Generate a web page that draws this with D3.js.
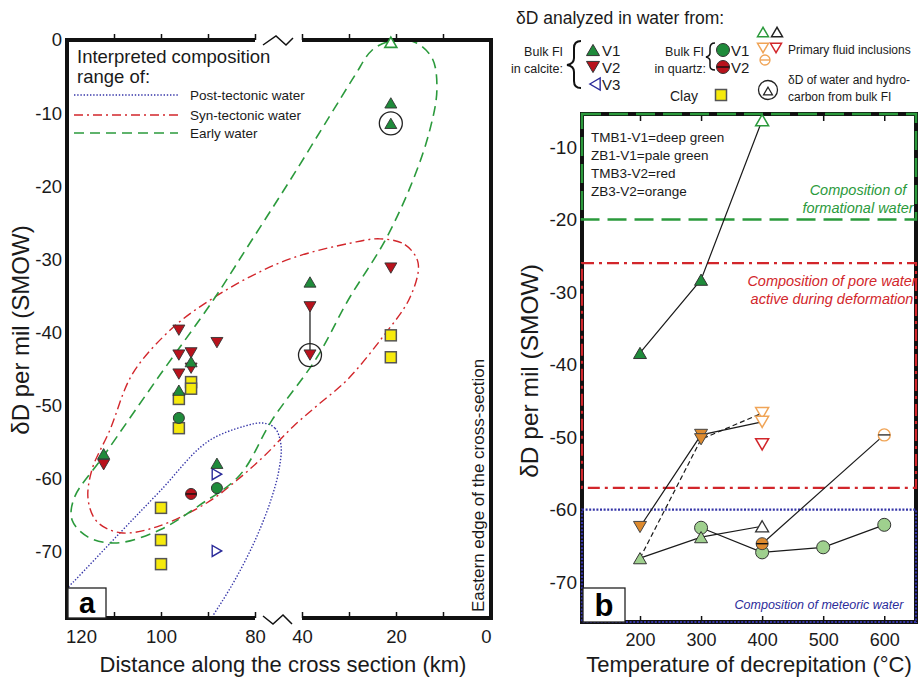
<!DOCTYPE html>
<html><head><meta charset="utf-8">
<script src="https://cdn.jsdelivr.net/npm/d3@7"></script>
<style>body{margin:0;background:#fff}svg{display:block}</style>
</head><body><svg id="c" width="923" height="678"></svg>
<script>
// ---------------- DATA ----------------
// Panel a : distance (km) along cross section, dD (per mil SMOW)
const distLabels = [120, 100, 80, 40, 20, 0];
const distTickMarks = [110, 100, 90, 80, 40, 30, 20, 10];
const dDTicksA = [0, -10, -20, -30, -40, -50, -60, -70];
const calciteV1 = [[112.2,-56.6],[96.2,-47.9],[93.6,-44.0],[88.1,-57.9],[38.3,-33.1],[21.1,-8.6],[21.1,-11.4]];
const calciteV2 = [[96.2,-39.7],[88.1,-41.4],[96.2,-43.1],[93.6,-42.8],[93.6,-44.9],[96.2,-45.7],[112.2,-58.1],[38.3,-36.5],[38.3,-43.1],[21.1,-31.2]];
const calciteV3 = [[88.1,-59.4],[88.1,-69.9]];
const quartzV1 = [[96.2,-51.7],[88.1,-61.3]];
const quartzV2 = [[93.6,-62.1]];
const clay = [[93.6,-46.8],[93.6,-47.7],[96.2,-49.1],[96.2,-53.1],[100,-64.0],[100,-68.4],[100,-71.7],[21.1,-40.4],[21.1,-43.4]];
const primaryA = [[21.1,-0.3]];
const bulkWaterHC = [[21.1,-11.4],[38.3,-43.1]];
const linkA = [[38.3,-36.5],[38.3,-43.1]];
// interpreted composition ranges (outline vertices, km / dD)
const earlyWater = [[25.1,-1.4],[20.9,-0.1],[16.0,-0.3],[12.3,-2.5],[11.3,-6.8],[12.8,-12.3],[16.4,-19.2],[22.3,-27.4],[30.2,-35.6],[36.8,-43.4],[65.5,-52.0],[83.2,-59.5],[91.7,-63.6],[100.2,-67.0],[109.4,-68.8],[115.5,-68.0],[118.9,-65.7],[118.5,-62.7],[112.1,-56.8],[100.2,-45.8],[88.9,-35.6],[81.1,-27.8],[50.2,-19.2],[34.0,-10.3],[28.7,-4.8]];
const synTectonic = [[23.4,-27.2],[18.1,-28.0],[15.3,-30.5],[17.0,-35.2],[22.8,-40.6],[30.4,-46.5],[36.2,-49.7],[47.7,-52.9],[71.5,-56.8],[83.8,-60.2],[90.2,-63.3],[100.9,-66.6],[108.7,-67.4],[113.6,-65.9],[115.5,-62.9],[114.7,-58.8],[110.9,-53.4],[106.0,-45.6],[97.4,-39.3],[89.6,-35.6],[81.1,-32.4],[47.7,-29.8],[29.8,-27.8]];
const postTectonic = [[73.2,-52.4],[63.0,-53.1],[57.9,-55.4],[59.6,-58.8],[66.4,-62.9],[79.8,-68.4],[84.3,-73.9],[89.1,-78.9],[96.0,-85.5],[108.7,-90.3],[123.6,-87.6],[127.9,-82.1],[124.7,-78.0],[118.9,-74.3],[108.7,-67.4],[100.2,-61.7],[90.2,-55.0],[82.1,-52.8]];

// Panel b : temperature of decrepitation (C), dD
const tempTicks = [200, 300, 400, 500, 600];
const dDTicksB = [-10, -20, -30, -40, -50, -60, -70];
const deepGreenBulk = [[200,-38.4],[300,-28.3]];
const deepGreenPrimary = [[400,-6.3]];
const deepGreenLine = [[200,-38.4],[300,-28.3],[400,-6.3]];
const paleGreenTri = [[200,-66.7],[300,-63.8]];
const paleGreenPrimary = [[400,-62.3]];
const paleGreenTriLine = [[200,-66.7],[300,-63.8],[400,-62.3]];
const paleGreenCirc = [[300,-62.5],[400,-65.9],[500,-65.2],[600,-62.1]];
const orangeBulk = [[200,-62.4],[300,-49.7],[300,-50.3]];
const orangePrimary = [[400,-46.7],[400,-47.9]];
const orangeLine = [[200,-62.4],[300,-49.7],[400,-47.9]];
const dashedLine = [[200,-66.7],[300,-50.3],[400,-46.7]];
const redPrimary = [[400,-51.0]];
const orangeQuartz = [[400,-64.7]];
const orangeQuartzPrimary = [[600,-49.7]];
const orangeQuartzLine = [[400,-64.7],[600,-49.7]];
const formationalWater = -20, poreWaterTop = -26, poreWaterBottom = -57, meteoricWater = -60;

// ---------------- STYLE ----------------
const FONT = '"Liberation Sans", Arial, Helvetica, sans-serif';
const C = {green:"#1f8b3b", pale:"#9fd08e", red:"#b8121c", orange:"#dd8a2e", orangeL:"#f0a456",
  yellow:"#f6ea0c", blue:"#2b2b9a", gLine:"#2b9a3c", rLine:"#d2262b", bLine:"#3535a8"};

const svg = d3.select("#c").style("font-family", FONT);

function tri(cx, cy, w, dir){
  const h = w*0.86, a=[];
  if(dir==="up") a.push([cx,cy-h/2],[cx-w/2,cy+h/2],[cx+w/2,cy+h/2]);
  if(dir==="down") a.push([cx,cy+h/2],[cx-w/2,cy-h/2],[cx+w/2,cy-h/2]);
  if(dir==="right") a.push([cx+h/2,cy],[cx-h/2,cy-w/2],[cx-h/2,cy+w/2]);
  if(dir==="left") a.push([cx-h/2,cy],[cx+h/2,cy-w/2],[cx+h/2,cy+w/2]);
  return "M"+a.map(p=>p.join(",")).join("L")+"Z";
}
function triMarks(g, data, xs, ys, w, dir, fill, stroke, sw){
  g.selectAll(null).data(data).enter().append("path")
   .attr("d", d=>tri(xs(d[0]), ys(d[1]), w, dir))
   .attr("fill", fill).attr("stroke", stroke).attr("stroke-width", sw).attr("stroke-linejoin","miter");
}
function circMarks(g, data, xs, ys, r, fill, stroke, sw, bar){
  const s = g.selectAll(null).data(data).enter().append("g");
  s.append("circle").attr("cx", d=>xs(d[0])).attr("cy", d=>ys(d[1])).attr("r", r)
   .attr("fill", fill).attr("stroke", stroke).attr("stroke-width", sw);
  if(bar) s.append("line").attr("x1", d=>xs(d[0])-r).attr("x2", d=>xs(d[0])+r)
   .attr("y1", d=>ys(d[1])).attr("y2", d=>ys(d[1])).attr("stroke", bar).attr("stroke-width", 1.4);
}
function sqMarks(g, data, xs, ys, w){
  g.selectAll(null).data(data).enter().append("rect")
   .attr("x", d=>xs(d[0])-w/2).attr("y", d=>ys(d[1])-w/2).attr("width", w).attr("height", w)
   .attr("fill", C.yellow).attr("stroke", "#555").attr("stroke-width", 1.5);
}
function styleAxis(g, size){
  g.select(".domain").remove();
  g.attr("font-size", null).attr("font-family", null);
  g.selectAll("text").attr("font-size", size).attr("fill", "#1a1a1a");
  g.selectAll("line").attr("stroke", "#111").attr("stroke-width", 1.5);
}

// ================= PANEL A =================
const xA = d3.scaleLinear().domain([120, 80, 40, 0]).range([67, 255, 302, 490]);
const yA = d3.scaleLinear().domain([0, -79]).range([40, 617.5]);
const A = svg.append("g");
svg.append("defs").append("clipPath").attr("id","clipA").append("rect")
  .attr("x", 67).attr("y", 40).attr("width", 423).attr("height", 578);

const ell = d3.line().x(d=>xA(d[0])).y(d=>yA(d[1])).curve(d3.curveCatmullRomClosed.alpha(0.5));
const ellG = A.append("g").attr("clip-path","url(#clipA)");
ellG.append("path").attr("d", ell(postTectonic)).attr("fill","none").attr("stroke",C.bLine).attr("stroke-width",1.4).attr("stroke-dasharray","1.4,1.8");
ellG.append("path").attr("d", ell(synTectonic)).attr("fill","none").attr("stroke",C.rLine).attr("stroke-width",1.4).attr("stroke-dasharray","9,4,2,4");
ellG.append("path").attr("d", ell(earlyWater)).attr("fill","none").attr("stroke",C.gLine).attr("stroke-width",1.6).attr("stroke-dasharray","10,6");

// axes
const axB = A.append("g").attr("transform","translate(0,618)")
  .call(d3.axisBottom(xA).tickValues(distLabels).tickSize(0).tickPadding(12).tickFormat(d=>String(d)));
styleAxis(axB, 18.5);
axB.selectAll(".tick").filter(d=>d===120).select("text").attr("dx", 14);
axB.selectAll(".tick").filter(d=>d===0).select("text").attr("dx", -4);
const tkB = A.append("g").attr("transform","translate(0,618)")
  .call(d3.axisBottom(xA).tickValues(distTickMarks).tickSize(-6).tickFormat(""));
styleAxis(tkB, 10);
const tkT = A.append("g").attr("transform","translate(0,40)")
  .call(d3.axisTop(xA).tickValues(distTickMarks).tickSize(6).tickFormat(""));
styleAxis(tkT, 10);
const axL = A.append("g").attr("transform","translate(67,0)")
  .call(d3.axisLeft(yA).tickValues(dDTicksA).tickSize(0).tickPadding(5).tickFormat(d=>String(d)));
styleAxis(axL, 18.5);

// frame
const fr = A.append("g").attr("stroke","#111").attr("stroke-width",4).attr("fill","none");
fr.append("line").attr("x1",xA(120)).attr("x2",xA(120)).attr("y1",38).attr("y2",620);
fr.append("line").attr("x1",xA(0)+1).attr("x2",xA(0)+1).attr("y1",38).attr("y2",620);
[40, 618].forEach(y=>{
  fr.append("line").attr("x1",65).attr("x2",xA(80)).attr("y1",y).attr("y2",y);
  fr.append("line").attr("x1",xA(40)).attr("x2",493).attr("y1",y).attr("y2",y);
});
A.append("path").attr("d","M263,45L276,36L286,45L293,38").attr("fill","none").attr("stroke","#111").attr("stroke-width",1.5);
A.append("path").attr("d","M263,616L273,624L283,615L292,624").attr("fill","none").attr("stroke","#111").attr("stroke-width",1.5);

// connectors and data
A.append("line").attr("x1",xA(linkA[0][0])).attr("x2",xA(linkA[1][0])).attr("y1",yA(linkA[0][1])).attr("y2",yA(linkA[1][1])).attr("stroke","#111").attr("stroke-width",1.2);
const mA = A.append("g");
sqMarks(mA, clay, xA, yA, 11);
circMarks(mA, quartzV1, xA, yA, 5.5, C.green, "#333", 1);
circMarks(mA, quartzV2, xA, yA, 5.5, C.red, "#333", 1, "#111");
triMarks(mA, calciteV3, xA, yA, 11, "right", "#fff", C.blue, 1.4);
triMarks(mA, calciteV2, xA, yA, 12, "down", C.red, "#333", 0.9);
triMarks(mA, calciteV1, xA, yA, 12, "up", C.green, "#333", 0.9);
triMarks(mA, primaryA, xA, yA, 12, "up", "#fff", C.gLine, 1.6);
mA.selectAll(null).data(bulkWaterHC).enter().append("circle")
  .attr("cx", d=>xA(d[0])).attr("cy", d=>yA(d[1])).attr("r", 11.5)
  .attr("fill","none").attr("stroke","#222").attr("stroke-width",1.3);

// legend a
A.append("text").attr("x",77).attr("y",63).attr("font-size",18.5).attr("fill","#1a1a1a").text("Interpreted composition");
A.append("text").attr("x",77).attr("y",83).attr("font-size",18.5).attr("fill","#1a1a1a").text("range of:");
const legA = [["Post-tectonic water", C.bLine, "1.4,1.8", 95],["Syn-tectonic water", C.rLine, "9,4,2,4", 115],["Early water", C.gLine, "10,6", 133]];
legA.forEach(l=>{
  A.append("line").attr("x1",74).attr("x2",178).attr("y1",l[3]).attr("y2",l[3]).attr("stroke",l[1]).attr("stroke-width",1.5).attr("stroke-dasharray",l[2]);
  A.append("text").attr("x",190).attr("y",l[3]+5).attr("font-size",13.5).attr("fill","#1a1a1a").text(l[0]);
});

// label a
A.append("rect").attr("x",68).attr("y",588).attr("width",38).attr("height",30).attr("fill","#fff").attr("stroke","#222").attr("stroke-width",1.3);
A.append("text").attr("x",87).attr("y",613).attr("text-anchor","middle").attr("font-size",29).attr("font-weight","bold").text("a");
A.append("text").attr("transform","translate(484,612) rotate(-90)").attr("font-size",17).attr("fill","#1a1a1a").text("Eastern edge of the cross-section");
A.append("text").attr("transform","translate(29,330) rotate(-90)").attr("text-anchor","middle").attr("font-size",24).attr("fill","#1a1a1a").text("δD per mil (SMOW)");
A.append("text").attr("x",283).attr("y",672).attr("text-anchor","middle").attr("font-size",22).attr("fill","#1a1a1a").text("Distance along the cross section (km)");

// ================= PANEL B =================
const xB = d3.scaleLinear().domain([105, 652]).range([582, 916]);
const yB = d3.scaleLinear().domain([-5.45, -75.5]).range([114, 622]);
const B = svg.append("g");

const bx = B.append("g").attr("transform","translate(0,622)")
  .call(d3.axisBottom(xB).tickValues(tempTicks).tickSize(0).tickPadding(11).tickFormat(d=>String(d)));
styleAxis(bx, 18);
const btb = B.append("g").attr("transform","translate(0,622)")
  .call(d3.axisBottom(xB).tickValues(tempTicks).tickSize(-6).tickFormat(""));
styleAxis(btb, 10);
const btt = B.append("g").attr("transform","translate(0,114)")
  .call(d3.axisTop(xB).tickValues(tempTicks).tickSize(-7).tickFormat(""));
styleAxis(btt, 10);
const by = B.append("g").attr("transform","translate(582,0)")
  .call(d3.axisLeft(yB).tickValues(dDTicksB).tickSize(0).tickPadding(5).tickFormat(d=>String(d)));
styleAxis(by, 19);

// frame + composition bands
const x0 = xB.range()[0], x1 = xB.range()[1];
B.append("rect").attr("x",x0).attr("y",114).attr("width",x1-x0).attr("height",508).attr("fill","none").attr("stroke","#111").attr("stroke-width",4);
function band(top, bot, col, dash, sw){
  B.append("rect").attr("x",x0).attr("y",yB(top)).attr("width",x1-x0).attr("height",yB(bot)-yB(top))
   .attr("fill","none").attr("stroke",col).attr("stroke-width",sw).attr("stroke-dasharray",dash);
}
band(-5.45, formationalWater, C.gLine, "19,8", 2.5);
band(poreWaterTop, poreWaterBottom, C.rLine, "12,5,3,5", 2.2);
band(meteoricWater, -75.5, C.bLine, "2,1.6", 2.2);

// band labels
const bt = (x,y,s,col,txt,it)=>B.append("text").attr("x",x).attr("y",y).attr("text-anchor","middle").attr("font-size",s).attr("fill",col).attr("font-style",it?"italic":null).text(txt);
bt(858,195,14.5,C.gLine,"Composition of",1);
bt(858,213,14.5,C.gLine,"formational water",1);
bt(832,286,14.5,C.rLine,"Composition of pore water",1);
bt(832,304,14.5,C.rLine,"active during deformation",1);
bt(819,609,12.5,C.blue,"Composition of meteoric water",1);
["TMB1-V1=deep green","ZB1-V1=pale green","TMB3-V2=red","ZB3-V2=orange"].forEach((t,i)=>
  B.append("text").attr("x",591).attr("y",142+i*18).attr("font-size",13.5).attr("fill","#1a1a1a").text(t));

// lines
const lnB = d3.line().x(d=>xB(d[0])).y(d=>yB(d[1]));
const lg = B.append("g").attr("fill","none").attr("stroke","#1a1a1a").attr("stroke-width",1.2);
[deepGreenLine, paleGreenTriLine, paleGreenCirc, orangeLine, orangeQuartzLine].forEach(d=>lg.append("path").attr("d", lnB(d)));
lg.append("path").attr("d", lnB(dashedLine)).attr("stroke-dasharray","5,3");

// markers
const mB = B.append("g");
circMarks(mB, paleGreenCirc, xB, yB, 6.5, C.pale, "#333", 1);
triMarks(mB, paleGreenTri, xB, yB, 13, "up", C.pale, "#333", 1);
triMarks(mB, paleGreenPrimary, xB, yB, 13, "up", "#fff", "#333", 1.3);
triMarks(mB, deepGreenBulk, xB, yB, 13, "up", C.green, "#333", 1);
triMarks(mB, deepGreenPrimary, xB, yB, 13, "up", "#fff", C.gLine, 1.5);
triMarks(mB, orangeBulk, xB, yB, 13, "down", C.orange, "#444", 1);
triMarks(mB, orangePrimary, xB, yB, 13, "down", "#fff", C.orangeL, 1.5);
triMarks(mB, redPrimary, xB, yB, 13, "down", "#fff", C.rLine, 1.5);
circMarks(mB, orangeQuartz, xB, yB, 6, C.orange, "#444", 1, "#111");
circMarks(mB, orangeQuartzPrimary, xB, yB, 6, "#fff", C.orangeL, 1.4, "#333");

B.append("rect").attr("x",583).attr("y",588).attr("width",42).attr("height",34).attr("fill","#fff").attr("stroke","#222").attr("stroke-width",1.3);
B.append("text").attr("x",604).attr("y",616).attr("text-anchor","middle").attr("font-size",31).attr("font-weight","bold").text("b");
B.append("text").attr("transform","translate(538,371) rotate(-90)").attr("text-anchor","middle").attr("font-size",24.5).attr("fill","#1a1a1a").text("δD per mil (SMOW)");
B.append("text").attr("x",749).attr("y",672).attr("text-anchor","middle").attr("font-size",22).attr("fill","#1a1a1a").text("Temperature of decrepitation (°C)");

// ================= LEGEND (top right) =================
const L = svg.append("g").attr("fill","#1a1a1a");
const lt = (x,y,s,txt,anchor)=>L.append("text").attr("x",x).attr("y",y).attr("font-size",s).attr("text-anchor",anchor||"start").text(txt);
lt(516,24,17.5,"δD analyzed in water from:");
lt(563,56,12.5,"Bulk FI","end");
lt(563,73,12.5,"in calcite:","end");
L.append("path").attr("d","M581,41 Q574,41 574,48 L574,58 Q574,64 567,65 Q574,66 574,72 L574,81 Q574,88 581,88").attr("fill","none").attr("stroke","#111").attr("stroke-width",2);
const id = v=>v;
triMarks(L, [[593,50]], id, id, 13, "up", C.green, "#333", 1);
triMarks(L, [[593,67]], id, id, 13, "down", C.red, "#333", 1);
triMarks(L, [[595,84]], id, id, 12, "left", "#fff", C.blue, 1.4);
lt(602,56,15,"V1"); lt(602,73,15,"V2"); lt(602,90,15,"V3");
lt(704,56,12.5,"Bulk FI","end");
lt(706,73,12.5,"in quartz:","end");
L.append("path").attr("d","M715,43 Q710,43 710,48 L710,53 Q710,56 706,57 Q710,58 710,61 L710,66 Q710,70 715,70").attr("fill","none").attr("stroke","#111").attr("stroke-width",1.5);
circMarks(L, [[723,50]], id, id, 6.5, C.green, "#333", 1);
circMarks(L, [[723,67]], id, id, 6.5, C.red, "#333", 1, "#111");
lt(731,56,15,"V1"); lt(731,73,15,"V2");
lt(670,101,14,"Clay");
sqMarks(L, [[721,95]], id, id, 11);
triMarks(L, [[763,32]], id, id, 11, "up", "#fff", C.gLine, 1.5);
triMarks(L, [[777,32]], id, id, 11, "up", "#fff", "#222", 1.5);
triMarks(L, [[763,48]], id, id, 11, "down", "#fff", C.orangeL, 1.5);
triMarks(L, [[776,48]], id, id, 11, "down", "#fff", C.rLine, 1.5);
circMarks(L, [[765,60]], id, id, 5, "#fff", C.orangeL, 1.3, C.orangeL);
lt(788,54,12,"Primary fluid inclusions");
L.append("circle").attr("cx",768).attr("cy",90).attr("r",9.5).attr("fill","none").attr("stroke","#222").attr("stroke-width",1.3);
triMarks(L, [[768,91]], id, id, 9, "up", "#fff", "#222", 1.2);
lt(788,84,12,"δD of water and hydro-");
lt(788,101,12,"carbon from bulk FI");
</script></body></html>
